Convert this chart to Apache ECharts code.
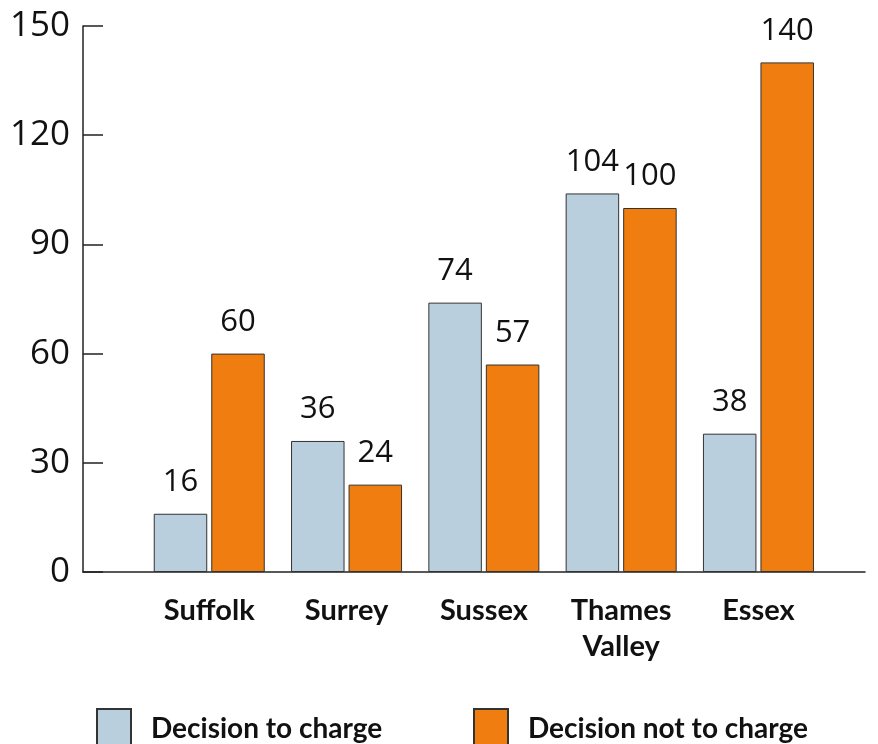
<!DOCTYPE html>
<html><head><meta charset="utf-8">
<script src="https://cdn.jsdelivr.net/npm/echarts@6/dist/echarts.min.js"></script>
<style>html,body{margin:0;padding:0;background:#fff}#c{width:878px;height:744px}</style>
</head><body><div id="c"></div>
<script>
const categories = ['Suffolk', 'Surrey', 'Sussex', 'Thames\nValley', 'Essex'];
const decisionToCharge = [16, 36, 74, 104, 38];
const decisionNotToCharge = [60, 24, 57, 100, 140];
const yTicks = [0, 30, 60, 90, 120, 150];
const seriesNames = ['Decision to charge', 'Decision not to charge'];

const chart = echarts.init(document.getElementById('c'), null, {renderer: 'canvas'});
const numFont = 'Open Sans';
const labFont = 'Lato';
const labelStyle = {show: true, position: 'top', distance: 16, color: '#111', fontSize: 31, fontFamily: numFont};
chart.setOption({
  animation: false,
  grid: [
    {left: 83, right: 13, top: 26, bottom: 172},
    {left: 140.6, right: 50.9, top: 26, bottom: 172}
  ],
  xAxis: [
    {gridIndex: 0, type: 'value', min: 0, max: 1, axisLine: {show: true, lineStyle: {color: '#222', width: 1.5}}, axisTick: {show: false}, axisLabel: {show: false}, splitLine: {show: false}},
    {gridIndex: 1, type: 'category', data: categories, axisLine: {show: false}, axisTick: {show: false},
     axisLabel: {margin: 21, color: '#111', fontSize: 29, fontWeight: 'bold', fontFamily: labFont, lineHeight: 36, interval: 0}}
  ],
  yAxis: [
    {gridIndex: 0, type: 'value', min: yTicks[0], max: yTicks[yTicks.length - 1], interval: 30,
     axisLine: {show: true, lineStyle: {color: '#222', width: 1.5}},
     axisTick: {show: true, inside: true, length: 20, lineStyle: {color: '#222', width: 1.5}},
     axisLabel: {margin: 13, color: '#111', fontSize: 35, fontFamily: numFont},
     splitLine: {show: false}},
    {gridIndex: 1, type: 'value', min: yTicks[0], max: yTicks[yTicks.length - 1], show: false, splitLine: {show: false}}
  ],
  legend: [
    {data: [{name: seriesNames[0], icon: 'rect'}], left: 96, top: 708, padding: 0, itemWidth: 34, itemHeight: 40, itemGap: 0,
     textStyle: {fontSize: 28, fontWeight: 'bold', fontFamily: labFont, color: '#111', padding: [0, 0, 0, 15]}},
    {data: [{name: seriesNames[1], icon: 'rect'}], left: 473, top: 708, padding: 0, itemWidth: 34, itemHeight: 40, itemGap: 0,
     textStyle: {fontSize: 28, fontWeight: 'bold', fontFamily: labFont, color: '#111', padding: [0, 0, 0, 15]}}
  ],
  series: [
    {name: seriesNames[0], type: 'bar', xAxisIndex: 1, yAxisIndex: 1, data: decisionToCharge,
     barWidth: 53.5, barGap: '7.5%',
     itemStyle: {color: '#b9cfdd', borderColor: '#333', borderWidth: 1}, label: labelStyle},
    {name: seriesNames[1], type: 'bar', xAxisIndex: 1, yAxisIndex: 1, data: decisionNotToCharge,
     barWidth: 53.5, barGap: '7.5%',
     itemStyle: {color: '#ef7d0f', borderColor: '#333', borderWidth: 1}, label: labelStyle}
  ]
});
</script></body></html>
